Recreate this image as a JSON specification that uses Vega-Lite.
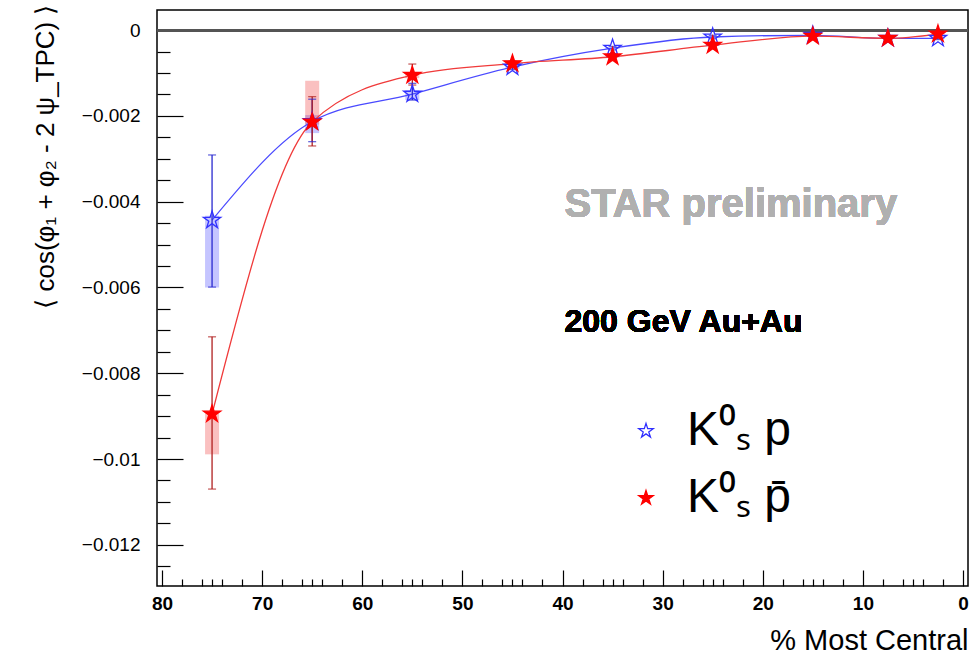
{
  "$schema": "https://vega.github.io/schema/vega-lite/v6.json",
  "width": 811,
  "height": 576,
  "autosize": {"type": "none"},
  "padding": {"left": 157, "top": 10, "right": 5, "bottom": 80},
  "background": "white",
  "config": {
    "font": "Liberation Sans",
    "view": {"stroke": "black", "strokeWidth": 1.5},
    "axis": {"domain": false, "grid": true, "gridColor": "black", "gridOpacity": 1, "gridWidth": 1.2, "ticks": false, "tickSize": 0, "labelColor": "black", "titleColor": "black", "labelFont": "Liberation Sans", "titleFont": "Liberation Sans", "titleFontWeight": "normal"}
  },
  "datasets": {
    "pts": [
      {"series": "K⁰ₛ p", "x": 75, "y": -0.00443, "lo": -0.00599, "hi": -0.00291, "slo": -0.00600, "shi": -0.00433},
      {"series": "K⁰ₛ p", "x": 65, "y": -0.00213, "lo": -0.00260, "hi": -0.00161, "slo": -0.00240, "shi": -0.00198},
      {"series": "K⁰ₛ p", "x": 55, "y": -0.00149, "lo": -0.00163, "hi": -0.00124, "slo": -0.00163, "shi": -0.00140},
      {"series": "K⁰ₛ p", "x": 45, "y": -0.00086, "lo": -0.00092, "hi": -0.00080, "slo": -0.00090, "shi": -0.00082},
      {"series": "K⁰ₛ p", "x": 35, "y": -0.00042, "lo": -0.00046, "hi": -0.00038, "slo": -0.00044, "shi": -0.00040},
      {"series": "K⁰ₛ p", "x": 25, "y": -0.00016, "lo": -0.00020, "hi": -0.00012, "slo": -0.00018, "shi": -0.00014},
      {"series": "K⁰ₛ p", "x": 15, "y": -0.00012, "lo": -0.00015, "hi": -0.00009, "slo": -0.00013, "shi": -0.00011},
      {"series": "K⁰ₛ p", "x": 7.5, "y": -0.00019, "lo": -0.00022, "hi": -0.00016, "slo": -0.00020, "shi": -0.00018},
      {"series": "K⁰ₛ p", "x": 2.5, "y": -0.00019, "lo": -0.00022, "hi": -0.00016, "slo": -0.00020, "shi": -0.00018},
      {"series": "K⁰ₛ p̄", "x": 75, "y": -0.00895, "lo": -0.01070, "hi": -0.00715, "slo": -0.00989, "shi": -0.00890},
      {"series": "K⁰ₛ p̄", "x": 65, "y": -0.00214, "lo": -0.00270, "hi": -0.00155, "slo": -0.00220, "shi": -0.00118},
      {"series": "K⁰ₛ p̄", "x": 55, "y": -0.00105, "lo": -0.00128, "hi": -0.00079, "slo": -0.00112, "shi": -0.00098},
      {"series": "K⁰ₛ p̄", "x": 45, "y": -0.00078, "lo": -0.00084, "hi": -0.00072, "slo": -0.00081, "shi": -0.00075},
      {"series": "K⁰ₛ p̄", "x": 35, "y": -0.00062, "lo": -0.00066, "hi": -0.00058, "slo": -0.00064, "shi": -0.00060},
      {"series": "K⁰ₛ p̄", "x": 25, "y": -0.00035, "lo": -0.00039, "hi": -0.00031, "slo": -0.00037, "shi": -0.00033},
      {"series": "K⁰ₛ p̄", "x": 15, "y": -0.00014, "lo": -0.00017, "hi": -0.00011, "slo": -0.00015, "shi": -0.00013},
      {"series": "K⁰ₛ p̄", "x": 7.5, "y": -0.00019, "lo": -0.00022, "hi": -0.00016, "slo": -0.00020, "shi": -0.00018},
      {"series": "K⁰ₛ p̄", "x": 2.5, "y": -0.00009, "lo": -0.00012, "hi": -0.00006, "slo": -0.00010, "shi": -0.00008}
    ]
  },
  "data": {"name": "pts"},
  "resolve": {"axis": {"x": "independent", "y": "independent"}},
  "layer": [
    {
      "mark": {"type": "rule", "stroke": "#555555", "strokeWidth": 2.5},
      "encoding": {
        "y": {"datum": 0, "type": "quantitative", "scale": {"domain": [-0.01296, 0.00047], "nice": false, "zero": false},
          "axis": {"orient": "left", "values": [0, -0.0005, -0.001, -0.0015, -0.002, -0.0025, -0.003, -0.0035, -0.004, -0.0045, -0.005, -0.0055, -0.006, -0.0065, -0.007, -0.0075, -0.008, -0.0085, -0.009, -0.0095, -0.01, -0.0105, -0.011, -0.0115, -0.012, -0.0125],
            "gridDash": {"condition": {"test": "abs(round(datum.value*10000)) % 20 == 0", "value": [26, 5000]}, "value": [13, 5000]},
            "labelExpr": "abs(round(datum.value*10000)) % 20 == 0 ? (datum.value == 0 ? '0' : format(datum.value, '.3~f')) : ''",
            "labelFontSize": 19, "labelPadding": 17,
            "title": "⟨ cos(φ₁ + φ₂ - 2 ψ_TPC) ⟩", "titleFontSize": 26, "titleAnchor": "end", "titleX": -112, "titleY": -6, "titleBaseline": "middle"}
        }
      }
    },
    {
      "mark": {"type": "bar", "size": 14, "opacity": 0.3},
      "encoding": {
        "x": {"field": "x", "type": "quantitative", "scale": {"domain": [0, 80], "reverse": true, "nice": false, "zero": false},
          "axis": {"orient": "bottom", "values": [0, 2, 4, 5, 6, 8, 10, 12, 14, 15, 16, 18, 20, 22, 24, 25, 26, 28, 30, 32, 34, 35, 36, 38, 40, 42, 44, 45, 46, 48, 50, 52, 54, 55, 56, 58, 60, 62, 64, 65, 66, 68, 70, 72, 74, 75, 76, 78, 80],
            "gridDash": {"condition": {"test": "datum.value % 10 == 0", "value": [0, 560, 16, 5000]}, "value": [0, 569, 7, 5000]},
            "labelExpr": "datum.value % 10 == 0 ? datum.label : ''",
            "labelFontSize": 19, "labelFontWeight": "bold", "labelPadding": 8,
            "title": "% Most Central", "titleFontSize": 29, "titleAnchor": null, "titleX": 811, "titleY": 54, "titleAlign": "right", "titleBaseline": "middle"}
        },
        "y": {"field": "slo", "type": "quantitative", "axis": null},
        "y2": {"field": "shi"},
        "color": {"condition": {"test": "datum.series == 'K⁰ₛ p'", "value": "#4040ff"}, "value": "#ee3030"}
      }
    },
    {
      "mark": {"type": "line", "interpolate": "monotone", "strokeWidth": 1.3},
      "encoding": {
        "x": {"field": "x", "type": "quantitative",
          "axis": {"orient": "top", "values": [0, 5, 10, 15, 20, 25, 30, 35, 40, 45, 50, 55, 60, 65, 70, 75, 80],
            "gridDash": {"condition": {"test": "datum.value % 20 == 0", "value": [16, 5000]}, "value": [7, 5000]},
            "labels": false, "title": null}
        },
        "y": {"field": "y", "type": "quantitative",
          "axis": {"orient": "right", "values": [0, -0.0005, -0.001, -0.0015, -0.002, -0.0025, -0.003, -0.0035, -0.004, -0.0045, -0.005, -0.0055, -0.006, -0.0065, -0.007, -0.0075, -0.008, -0.0085, -0.009, -0.0095, -0.01, -0.0105, -0.011, -0.0115, -0.012, -0.0125],
            "gridDash": {"condition": {"test": "abs(round(datum.value*10000)) % 20 == 0", "value": [24, 5000]}, "value": [12, 5000]},
            "labels": false, "title": null}
        },
        "detail": {"field": "series"},
        "stroke": {"condition": {"test": "datum.series == 'K⁰ₛ p'", "value": "#4a4aff"}, "value": "#f03a3a"}
      }
    },
    {
      "mark": {"type": "rule", "strokeWidth": 1.3},
      "encoding": {
        "x": {"field": "x", "type": "quantitative", "axis": null},
        "y": {"field": "lo", "type": "quantitative", "axis": null},
        "y2": {"field": "hi"},
        "stroke": {"condition": {"test": "datum.series == 'K⁰ₛ p'", "value": "#2a2ad0"}, "value": "#b02020"}
      }
    },
    {
      "mark": {"type": "tick", "orient": "horizontal", "size": 8, "thickness": 1.3},
      "encoding": {
        "x": {"field": "x", "type": "quantitative", "axis": null},
        "y": {"field": "lo", "type": "quantitative", "axis": null},
        "color": {"condition": {"test": "datum.series == 'K⁰ₛ p'", "value": "#2a2ad0"}, "value": "#b02020"}
      }
    },
    {
      "mark": {"type": "tick", "orient": "horizontal", "size": 8, "thickness": 1.3},
      "encoding": {
        "x": {"field": "x", "type": "quantitative", "axis": null},
        "y": {"field": "hi", "type": "quantitative", "axis": null},
        "color": {"condition": {"test": "datum.series == 'K⁰ₛ p'", "value": "#2a2ad0"}, "value": "#b02020"}
      }
    },
    {
      "mark": {"type": "point", "shape": "M0,-1L0.2245,-0.309L0.951,-0.309L0.363,0.118L0.588,0.809L0,0.382L-0.588,0.809L-0.363,0.118L-0.951,-0.309L-0.2245,-0.309Z", "size": 330, "strokeWidth": 1.3, "opacity": 1, "filled": false},
      "encoding": {
        "x": {"field": "x", "type": "quantitative", "axis": null},
        "y": {"field": "y", "type": "quantitative", "axis": null},
        "stroke": {"field": "series", "type": "nominal", "scale": {"domain": ["K⁰ₛ p", "K⁰ₛ p̄"], "range": ["#3030ff", "#ff0000"]},
          "legend": {"orient": "none", "legendX": 465, "legendY": 397, "title": null, "symbolType": "M0,-1L0.2245,-0.309L0.951,-0.309L0.363,0.118L0.588,0.809L0,0.382L-0.588,0.809L-0.363,0.118L-0.951,-0.309L-0.2245,-0.309Z", "symbolSize": 230, "symbolStrokeWidth": 1.3, "labelFontSize": 48, "labelFont": "Liberation Sans", "labelColor": "black", "labelOffset": 17, "rowPadding": 19, "labelLimit": 300}},
        "fill": {"field": "series", "type": "nominal", "scale": {"domain": ["K⁰ₛ p", "K⁰ₛ p̄"], "range": ["transparent", "#ff0000"]},
          "legend": {"orient": "none", "legendX": 465, "legendY": 397, "title": null, "symbolType": "M0,-1L0.2245,-0.309L0.951,-0.309L0.363,0.118L0.588,0.809L0,0.382L-0.588,0.809L-0.363,0.118L-0.951,-0.309L-0.2245,-0.309Z", "symbolSize": 230, "symbolStrokeWidth": 1.3, "labelFontSize": 48, "labelFont": "Liberation Sans", "labelColor": "black", "labelOffset": 17, "rowPadding": 19, "labelLimit": 300}}
      }
    },
    {
      "mark": {"type": "text", "text": "STAR preliminary", "font": "Liberation Sans", "fontSize": 40, "fontWeight": "bold", "fill": "#b0b0b0", "align": "left", "baseline": "middle"},
      "encoding": {
        "x": {"datum": 39.8, "type": "quantitative", "axis": null},
        "y": {"datum": -0.00408, "type": "quantitative", "axis": null}
      }
    },
    {
      "mark": {"type": "text", "text": "200 GeV Au+Au", "font": "Liberation Sans", "fontSize": 32, "fontWeight": "bold", "fill": "black", "align": "left", "baseline": "middle"},
      "encoding": {
        "x": {"datum": 39.8, "type": "quantitative", "axis": null},
        "y": {"datum": -0.0068, "type": "quantitative", "axis": null}
      }
    }
  ]
}
